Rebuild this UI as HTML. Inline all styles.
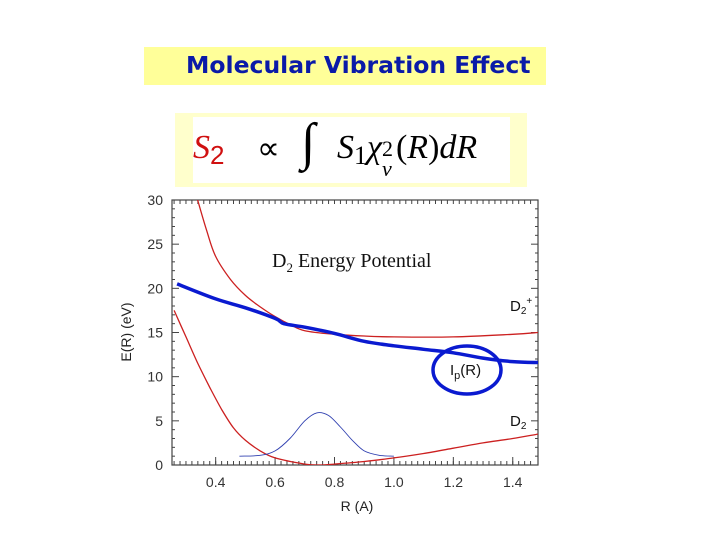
<!DOCTYPE html>
<html><head><meta charset="utf-8"><style>
html,body{margin:0;padding:0;background:#fff;}
body{width:720px;height:540px;position:relative;overflow:hidden;font-family:"Liberation Sans",sans-serif;}
#title{position:absolute;left:144px;top:47px;width:402px;height:38px;background:#ffff99;}
#title span{position:absolute;left:42px;top:4px;font-weight:bold;font-size:23.5px;color:#0a1aa8;font-family:"DejaVu Sans","Liberation Sans",sans-serif;white-space:nowrap;}
#fbox{position:absolute;left:175px;top:113px;width:352px;height:74px;background:#ffffcc;}
#fin{position:absolute;left:18px;top:4px;width:317px;height:66px;background:#fff;font-family:"Liberation Serif",serif;font-style:italic;font-size:34px;white-space:nowrap;}
.n{font-style:normal;}
</style></head><body>
<div id="title"><span>Molecular Vibration Effect</span></div>
<div id="fbox"><div id="fin">
<span style="position:absolute;left:0px;top:12px;color:#d01010">S<span class="n" style="font-family:'Liberation Sans',sans-serif;font-size:26px;position:relative;top:6px">2</span></span>
<span class="n" style="position:absolute;left:64px;top:12px;font-size:32px">∝</span>
<span class="n" style="position:absolute;left:108px;top:-4px;font-size:52px">∫</span>
<span style="position:absolute;left:144px;top:12px">S<span class="n" style="font-size:26px;position:relative;top:6px">1</span>χ<span style="display:inline-block;position:relative;width:14px;font-size:22px"><span class="n" style="position:absolute;left:0;top:-22px">2</span><span style="position:absolute;left:0;top:-2px">v</span></span><span class="n">(</span>R<span class="n">)</span>dR</span>
</div></div>
<svg id="chart" width="720" height="540" style="position:absolute;left:0;top:0"></svg>
<script>
const xUpper=[0.335,0.37,0.4,0.45,0.5,0.55,0.6,0.65,0.7,0.8,0.9,1.0,1.2,1.4,1.485];
const yUpper=[30.5,26.5,23.6,21.0,19.2,17.9,16.8,15.9,15.2,14.8,14.6,14.5,14.5,14.8,15.0];
const xIp=[0.27,0.4,0.5,0.6,0.63,0.7,0.8,0.9,1.0,1.1,1.2,1.3,1.4,1.485];
const yIp=[20.5,18.8,17.8,16.6,16.0,15.6,14.9,14.0,13.5,13.1,12.7,12.1,11.7,11.6];
const xLower=[0.26,0.3,0.34,0.38,0.42,0.46,0.5,0.55,0.6,0.7,0.75,0.8,0.9,1.0,1.1,1.2,1.3,1.4,1.485];
const yLower=[17.5,14.5,11.5,8.8,6.3,4.2,2.8,1.6,0.8,0.1,0,0.1,0.4,0.8,1.3,1.9,2.5,3.0,3.5];
const xWave=[0.48,0.55,0.6,0.65,0.7,0.74,0.78,0.82,0.86,0.9,0.95,1.0];
const yWave=[1.0,1.1,1.6,3.0,5.0,5.9,5.6,4.3,2.8,1.6,1.1,1.0];
const xTicks=[0.4,0.6,0.8,1.0,1.2,1.4];
const xTickLabels=["0.4","0.6","0.8","1.0","1.2","1.4"];
const yTicks=[0,5,10,15,20,25,30];
const yTickLabels=["0","5","10","15","20","25","30"];
const L=172,R=538,T=200,B=465,X0=0.253,X1=1.485,Y0=0,Y1=30;
const sx=v=>L+(v-X0)/(X1-X0)*(R-L);
const sy=v=>B-(v-Y0)/(Y1-Y0)*(B-T);
const svg=document.getElementById('chart');
const NS='http://www.w3.org/2000/svg';
function mk(t,a){const e=document.createElementNS(NS,t);for(const k in a)e.setAttribute(k,a[k]);svg.appendChild(e);return e;}
const clip=mk('clipPath',{id:'pc'});const cr=document.createElementNS(NS,'rect');cr.setAttribute('x',L);cr.setAttribute('y',T);cr.setAttribute('width',R-L);cr.setAttribute('height',B-T);clip.appendChild(cr);
const frame=mk('rect',{x:L,y:T,width:R-L,height:B-T,fill:'none',stroke:'#444','stroke-width':1.2});


for(let v=0.26;v<=1.48;v+=0.02){const x=sx(v);mk('line',{x1:x,x2:x,y1:B,y2:B-4,stroke:'#444','stroke-width':1});mk('line',{x1:x,x2:x,y1:T,y2:T+4,stroke:'#444','stroke-width':1});}
for(let v=0;v<=30;v+=1){const y=sy(v);const w=v%5===0?7:3;mk('line',{x1:L,x2:L+w,y1:y,y2:y,stroke:'#444','stroke-width':1});mk('line',{x1:R,x2:R-w,y1:y,y2:y,stroke:'#444','stroke-width':1});}
xTicks.forEach((v,i)=>{const t=mk('text',{x:sx(v),y:487,'text-anchor':'middle','font-size':14,fill:'#333','font-family':'Liberation Sans, sans-serif'});t.textContent=xTickLabels[i];


mk('line',{x1:sx(v),x2:sx(v),y1:B,y2:B-8,stroke:'#444'});});
yTicks.forEach((v,i)=>{const t=mk('text',{x:163,y:sy(v)+5,'text-anchor':'end','font-size':14,fill:'#333','font-family':'Liberation Sans, sans-serif'});t.textContent=yTickLabels[i];

});
const xt=mk('text',{x:357,y:511,'text-anchor':'middle','font-size':14,fill:'#222'});xt.textContent='R (A)';


const yt=mk('text',{x:0,y:0,'text-anchor':'middle','font-size':14,fill:'#222',transform:'translate(131,332) rotate(-90)'});yt.textContent='E(R) (eV)';


function line(xs,ys,col,w,name){
  const p=xs.map((x,i)=>[sx(x),sy(ys[i])]);
  let d='M'+p[0][0].toFixed(1)+','+p[0][1].toFixed(1);
  for(let i=0;i<p.length-1;i++){
    const p0=p[Math.max(0,i-1)],p1=p[i],p2=p[i+1],p3=p[Math.min(p.length-1,i+2)];
    const c1=[p1[0]+(p2[0]-p0[0])/6,p1[1]+(p2[1]-p0[1])/6];
    const c2=[p2[0]-(p3[0]-p1[0])/6,p2[1]-(p3[1]-p1[1])/6];
    d+=' C'+c1.map(v=>v.toFixed(1)).join(',')+' '+c2.map(v=>v.toFixed(1)).join(',')+' '+p2.map(v=>v.toFixed(1)).join(',');
  }
  const e=mk('path',{d:d,fill:'none',stroke:col,'stroke-width':w,'clip-path':'url(#pc)','stroke-linejoin':'round'});
  
  }
line(xUpper,yUpper,'#cc2020',1.3,'d2-ion-curve');
line(xLower,yLower,'#cc2020',1.3,'d2-ground-curve');
line(xWave,yWave,'#3040b0',0.9,'vibrational-wavefunction');
line(xIp,yIp,'#0a1ad0',3.5,'ip-curve');
const el=mk('ellipse',{cx:467,cy:370,rx:34,ry:24,fill:'none',stroke:'#0a1ad0','stroke-width':3.5});


function lbl(x,y,html,name,sz,fam){const t=mk('text',{x:x,y:y,'font-size':sz||14,fill:'#111','font-family':fam||'Liberation Sans, sans-serif'});t.innerHTML=html;

}
lbl(272,267,'D<tspan font-size="13" dy="5">2</tspan><tspan dy="-5"> Energy Potential</tspan>','chart-annotation',20,'Liberation Serif, serif');
lbl(510,311,'D<tspan font-size="10" dy="3">2</tspan><tspan font-size="10" dy="-10">+</tspan>','d2-ion-label',15);
lbl(510,426,'D<tspan font-size="10" dy="3">2</tspan>','d2-label',15);
lbl(450,375,'I<tspan font-size="11" dy="4">p</tspan><tspan dy="-4">(R)</tspan>','ip-label',15);
</script>
</body></html>
